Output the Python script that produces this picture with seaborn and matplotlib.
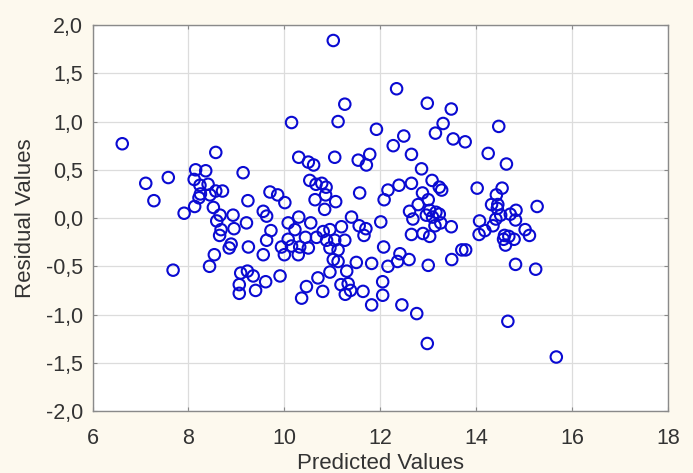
import matplotlib
matplotlib.use("Agg")
import matplotlib.pyplot as plt
import seaborn as sns
import pandas as pd
from matplotlib.ticker import FuncFormatter

predicted = [
    6.62, 7.11, 7.28, 7.58, 7.68, 7.91, 8.15, 8.36, 8.12, 8.24, 8.41, 8.57, 8.57, 8.71,
    8.25, 8.45, 8.22, 8.13, 8.52, 8.66, 8.93, 8.59, 9.21, 8.68, 8.95, 8.65, 8.89, 8.85,
    9.25, 8.54, 8.44, 9.09, 9.23, 9.35, 9.06, 9.06, 9.40, 9.14, 9.24, 9.56, 9.63, 9.70,
    9.86, 9.72, 9.63, 9.56, 9.61, 10.01, 10.15, 10.30, 10.50, 10.61, 10.08, 10.22, 10.30,
    10.08, 9.94, 10.15, 10.32, 10.00, 10.29, 9.91, 10.53, 10.66, 10.78, 10.87, 10.64,
    10.86, 11.07, 10.84, 11.05, 11.12, 11.26, 11.02, 11.54, 11.78, 11.71, 11.57, 10.55,
    10.44, 10.67, 10.81, 10.95, 11.19, 11.40, 11.56, 10.50, 10.88, 11.05, 11.26, 10.95,
    11.12, 11.02, 11.12, 11.50, 10.70, 10.95, 11.30, 10.46, 10.36, 10.80, 11.18, 11.33,
    11.38, 11.27, 11.64, 12.01, 11.92, 12.34, 12.49, 12.27, 12.65, 12.86, 12.16, 12.08,
    12.39, 12.65, 11.70, 11.66, 12.07, 12.41, 12.60, 12.36, 12.16, 11.82, 12.05, 12.05,
    11.82, 12.45, 12.76, 12.98, 12.79, 12.61, 12.68, 12.65, 13.00, 12.98, 13.48, 13.31,
    13.15, 13.52, 13.77, 13.08, 13.23, 13.28, 12.88, 13.00, 13.03, 13.16, 12.96, 13.09,
    13.23, 13.26, 13.14, 13.48, 12.89, 13.03, 13.49, 13.70, 13.78, 14.02, 14.25, 14.47,
    14.63, 14.54, 14.42, 14.32, 14.45, 14.44, 14.51, 14.71, 14.83, 14.82, 15.27, 14.07,
    14.35, 14.41, 14.18, 14.06, 14.59, 14.68, 14.79, 14.57, 14.61, 15.02, 15.11, 14.82,
    15.24, 14.66, 15.67,
]
residual = [
    0.77, 0.36, 0.18, 0.42, -0.54, 0.05, 0.50, 0.49, 0.40, 0.34, 0.35, 0.68, 0.28, 0.28,
    0.25, 0.24, 0.21, 0.12, 0.11, 0.03, 0.03, -0.03, -0.05, -0.12, -0.11, -0.18, -0.27, -0.31,
    -0.30, -0.38, -0.50, -0.57, -0.55, -0.60, -0.69, -0.78, -0.75, 0.47, 0.18, 0.07, 0.02, 0.27,
    0.24, -0.13, -0.23, -0.38, -0.66, 0.16, 0.99, 0.63, 0.58, 0.55, -0.05, -0.12, 0.01,
    -0.22, -0.30, -0.29, -0.30, -0.38, -0.38, -0.60, 0.39, 0.35, 0.36, 0.32, 0.19,
    0.24, 0.17, 0.09, 0.63, 1.00, 1.18, 1.84, 0.60, 0.66, 0.55, 0.26, -0.05,
    -0.20, -0.20, -0.14, -0.12, -0.09, 0.01, -0.08, -0.31, -0.23, -0.23, -0.23, -0.31,
    -0.33, -0.43, -0.45, -0.46, -0.62, -0.56, -0.55, -0.71, -0.83, -0.76, -0.69, -0.68,
    -0.75, -0.79, -0.76, -0.04, 0.92, 1.34, 0.85, 0.75, 0.66, 0.51, 0.29, 0.19,
    0.34, 0.36, -0.11, -0.18, -0.30, -0.37, -0.43, -0.45, -0.50, -0.47, -0.66, -0.80,
    -0.90, -0.90, -0.99, -1.30, 0.14, 0.07, -0.01, -0.17, -0.49, 1.19, 1.13, 0.98,
    0.88, 0.82, 0.79, 0.39, 0.32, 0.29, 0.26, 0.19, 0.08, 0.06, 0.03, 0.01,
    0.04, -0.05, -0.08, -0.09, -0.16, -0.19, -0.43, -0.33, -0.33, 0.31, 0.67, 0.95,
    0.56, 0.31, 0.24, 0.14, 0.14, 0.10, 0.03, 0.04, 0.08, -0.02, 0.12, -0.03,
    -0.08, -0.01, -0.13, -0.17, -0.18, -0.19, -0.22, -0.22, -0.28, -0.12, -0.18, -0.48,
    -0.53, -1.07, -1.44,
]

x_ticks = [6, 8, 10, 12, 14, 16, 18]
y_ticks = [-2.0, -1.5, -1.0, -0.5, 0.0, 0.5, 1.0, 1.5, 2.0]

df = pd.DataFrame({"Predicted Values": predicted, "Residual Values": residual})

sns.set_theme(style="white")
plt.rcParams["font.family"] = ["Liberation Sans", "DejaVu Sans"]

bg = "#fdf9ee"
fig = plt.figure(figsize=(6.93, 4.73), dpi=100, facecolor=bg)
ax = fig.add_axes([0.1335, 0.131, 0.8305, 0.816])
ax.set_facecolor("white")

sns.scatterplot(data=df, x="Predicted Values", y="Residual Values", ax=ax,
                marker="o", s=68, facecolors="none", edgecolor="#0a0ad2",
                linewidth=1.5, zorder=3)

ax.set_xlim(6, 18)
ax.set_ylim(-2, 2)
ax.set_xticks(x_ticks)
ax.set_yticks(y_ticks)
ax.xaxis.set_major_formatter(FuncFormatter(lambda v, p: f"{v:.0f}"))
ax.yaxis.set_major_formatter(FuncFormatter(lambda v, p: f"{v:.1f}".replace(".", ",")))

ax.grid(True, color="#dcdcdc", linewidth=0.9, zorder=0)
for s in ax.spines.values():
    s.set_color("#8a8a8a")
    s.set_linewidth(1.0)
ax.tick_params(axis="both", which="both", direction="in", length=3, width=0.8,
               color="#8a8a8a", labelsize=15.5, labelcolor="#333333",
               top=True, right=True, left=True, bottom=True)
ax.tick_params(axis="y", pad=7)
ax.tick_params(axis="x", pad=12)

ax.set_xlabel("Predicted Values", fontsize=16, color="#333333", labelpad=3)
ax.set_ylabel("Residual Values", fontsize=16, color="#333333", labelpad=7)

fig.savefig("out.png", dpi=100, facecolor=bg)
